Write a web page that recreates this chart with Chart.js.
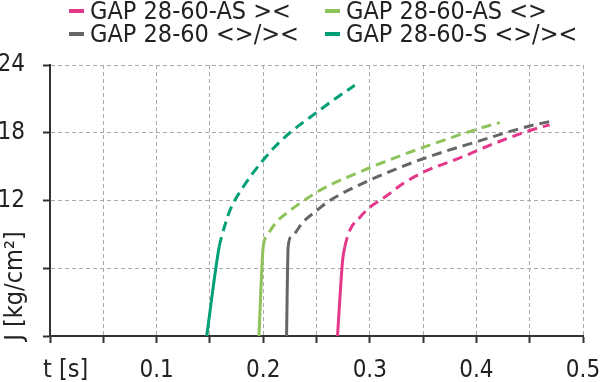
<!DOCTYPE html>
<html>
<head>
<meta charset="utf-8">
<script src="https://cdn.jsdelivr.net/npm/chart.js@4"></script>
<style>
  body { margin: 0; background: #fff; }
  #wrap { position: relative; width: 600px; height: 382px; font-family: 'Liberation Sans Narrow', 'DejaVu Sans Condensed', sans-serif; color: #222; }
  canvas { position: absolute; left: 0; top: 0; }
  .leg { position: absolute; font-size: 25px; line-height: 25px; white-space: nowrap; display: flex; align-items: center; }
  .leg i { display: inline-block; width: 15px; height: 4px; margin-right: 6px; }
  .lbl { position: absolute; font-size: 25px; line-height: 25px; white-space: nowrap; }
</style>
</head>
<body>
<div id="wrap">
  <canvas id="c" width="600" height="382"></canvas>
  <div id="legend"></div>
  <div class="lbl" style="left:43px; top:356px;">t [s]</div>
  <div class="lbl" style="left:13px; top:286px; transform: translate(-50%,-50%) rotate(-90deg);">J [kg/cm²]</div>
</div>
<script>
// series names and colours
const names = ['GAP 28-60-AS ><', 'GAP 28-60-AS <>', 'GAP 28-60 <>/><', 'GAP 28-60-S <>/><'];
const colors = ['#e3398a', '#8dc35a', '#666666', '#00a077'];

// t [s] and J [kg/cm2]; first points solid, rest dashed
const tAsCross = [0.2697, 0.2745, 0.2766, 0.2812, 0.2906, 0.3, 0.3156, 0.3312, 0.35, 0.3906, 0.4, 0.45, 0.4687];
const jAsCross = [0, 6.7, 7.9, 9.35, 10.5, 11.4, 12.4, 13.5, 14.5, 16.0, 16.4, 18.2, 18.7];
const tAsOpen = [0.196, 0.2, 0.2031, 0.2125, 0.225, 0.2406, 0.2531, 0.3, 0.35, 0.4, 0.4219];
const jAsOpen = [0, 7.9, 8.8, 10.1, 11.1, 12.15, 12.9, 14.9, 16.7, 18.3, 18.9];
const tBoth = [0.2219, 0.2234, 0.2266, 0.2375, 0.25, 0.2625, 0.3, 0.35, 0.4, 0.45, 0.4694];
const jBoth = [0, 7.9, 8.8, 10.1, 11.1, 12.0, 13.8, 15.7, 17.2, 18.6, 19.0];
const tS = [0.147, 0.1587, 0.161, 0.1687, 0.1812, 0.1984, 0.2094, 0.225, 0.2437, 0.2719, 0.2859];
const jS = [0, 7.9, 8.8, 11.1, 13.2, 15.4, 16.6, 18.0, 19.35, 21.3, 22.2];
const solidEnd = [2, 1, 1, 1];

const yTicks = [12, 18, 24];
const xTicks = [0.1, 0.2, 0.3, 0.4, 0.5];

const series = [[tAsCross, jAsCross], [tAsOpen, jAsOpen], [tBoth, jBoth], [tS, jS]];

const datasets = series.map(([t, j], i) => ({
  label: names[i],
  data: t.map((x, k) => ({ x: x, y: j[k] })),
  borderColor: colors[i],
  borderWidth: 3,
  pointRadius: 0,
  fill: false,
  cubicInterpolationMode: 'monotone',
  segment: {
    borderDash: ctx => ctx.p0DataIndex >= solidEnd[i] ? [10, 6] : []
  }
}));

// html legend, two columns
const legendPos = [[69, -2], [325, -2], [69, 21], [325, 21]];
const legend = document.getElementById('legend');
names.forEach((n, i) => {
  const d = document.createElement('div');
  d.className = 'leg';
  d.style.left = legendPos[i][0] + 'px';
  d.style.top = legendPos[i][1] + 'px';
  const m = document.createElement('i');
  m.style.background = colors[i];
  d.appendChild(m);
  d.appendChild(document.createTextNode(n));
  legend.appendChild(d);
});

const tickFont = { family: "'Liberation Sans Narrow', 'DejaVu Sans Condensed', sans-serif", size: 24 };

new Chart(document.getElementById('c'), {
  type: 'line',
  data: { datasets: datasets },
  options: {
    responsive: false,
    animation: false,
    devicePixelRatio: 1,
    layout: { padding: { top: 65, right: 17, left: 0, bottom: 0 } },
    plugins: { legend: { display: false }, tooltip: { enabled: false } },
    scales: {
      x: {
        type: 'linear',
        min: 0,
        max: 0.5,
        afterFit: s => { s.height = 46; s.paddingLeft = 0; s.paddingRight = 0; },
        ticks: {
          stepSize: 0.05,
          autoSkip: false,
          maxRotation: 0,
          padding: 13,
          color: '#222',
          font: tickFont,
          callback: v => {
            const hit = xTicks.find(x => Math.abs(x - v) < 1e-6);
            return hit ? hit.toFixed(1) : '';
          }
        },
        grid: { color: '#aaaaaa', lineWidth: 1, tickLength: 7, tickColor: '#333', tickWidth: 2, tickBorderDash: [] },
        border: { display: true, color: '#333', width: 2, dash: [4, 3] }
      },
      y: {
        min: 0,
        max: 24,
        afterFit: s => { s.width = 50; },
        ticks: {
          stepSize: 6,
          padding: 18,
          color: '#222',
          font: tickFont,
          callback: v => yTicks.includes(v) ? String(v) : ''
        },
        grid: { color: '#aaaaaa', lineWidth: 1, tickLength: 7, tickColor: '#333', tickWidth: 2, tickBorderDash: [] },
        border: { display: true, color: '#333', width: 2, dash: [4, 3] }
      }
    }
  }
});
</script>
</body>
</html>
